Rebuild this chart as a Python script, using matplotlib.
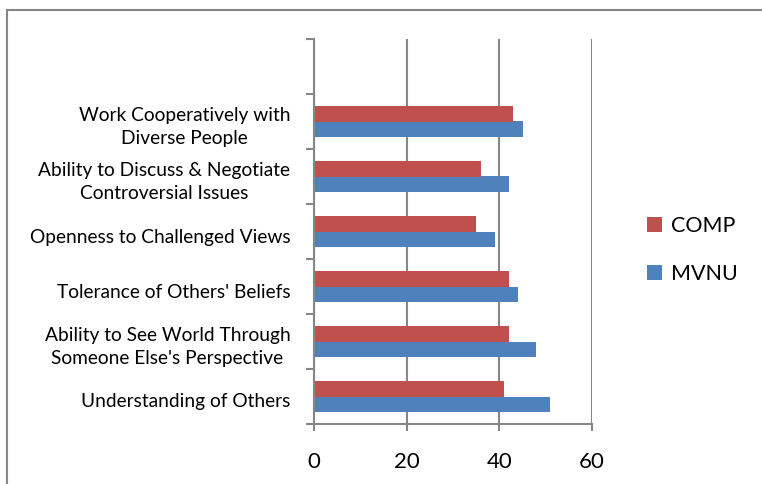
import matplotlib
matplotlib.use("Agg")
import matplotlib.pyplot as plt
from matplotlib.patches import Rectangle
from matplotlib.ticker import FixedLocator
from matplotlib.transforms import ScaledTranslation
import numpy as np

plt.rcParams['font.family'] = ['Lato', 'DejaVu Sans']

categories = [
    "Understanding of Others",
    "Ability to See World Through\nSomeone Else's Perspective",
    "Tolerance of Others' Beliefs",
    "Openness to Challenged Views",
    "Ability to Discuss & Negotiate\nControversial Issues",
    "Work Cooperatively with\nDiverse People",
]
mvnu = [51, 48, 44, 39, 42, 45]
comp = [41, 42, 42, 35, 36, 43]
xticks = [0, 20, 40, 60]

W, H = 762, 484
fig = plt.figure(figsize=(W / 100, H / 100), dpi=100)
ax = fig.add_axes([314 / W, (H - 424) / H, 278 / W, 385 / H])

y = np.arange(len(categories))
h = 0.28
gray = '#868686'
ax.barh(y - h / 2, mvnu, height=h, color='#4F81BD', label='MVNU', zorder=3)
ax.barh(y + h / 2, comp, height=h, color='#C0504D', label='COMP', zorder=3)

ax.set_xlim(0, 60)
ax.set_ylim(-0.5, len(categories) + 0.5)
ax.set_xticks(xticks)
ax.set_xticklabels([str(v) for v in xticks], fontsize=16)
ax.set_yticks(y)
ax.set_yticklabels(categories, fontsize=13.75, multialignment='center', linespacing=1.45)
ax.yaxis.set_minor_locator(FixedLocator(np.arange(-0.5, len(categories) + 1, 1.0)))
ax.tick_params(axis='y', which='major', length=0, pad=17)
ax.tick_params(axis='y', which='minor', length=6, width=1.5, color=gray, direction='out')
ax.tick_params(axis='x', which='major', length=5, width=1.5, color=gray, direction='out', pad=15)

for lab, cat in zip(ax.get_yticklabels(), categories):
    dy = -1 if '\n' in cat else -4
    lab.set_transform(lab.get_transform() + ScaledTranslation(0, dy / 100, fig.dpi_scale_trans))

ax.grid(axis='x', color=gray, linewidth=1.5, zorder=0)
for s in ['top', 'right']:
    ax.spines[s].set_visible(False)
for s in ['left', 'bottom']:
    ax.spines[s].set_color(gray)
    ax.spines[s].set_linewidth(1.5)
    ax.spines[s].set_zorder(4)

handles, labels = ax.get_legend_handles_labels()
leg = fig.legend(handles[::-1], labels[::-1], loc='center left',
                 bbox_to_anchor=(628 / W, 1 - 250 / H), frameon=False,
                 fontsize=15.5, handlelength=0.7, handleheight=0.7,
                 handletextpad=0.4, labelspacing=1.3)

fig.patches.append(Rectangle((7 / W, -0.1), 1.2, 1 - 10 / H + 0.1,
                             transform=fig.transFigure, fill=False,
                             edgecolor=gray, linewidth=1.5))

fig.savefig('out.png', dpi=100)
